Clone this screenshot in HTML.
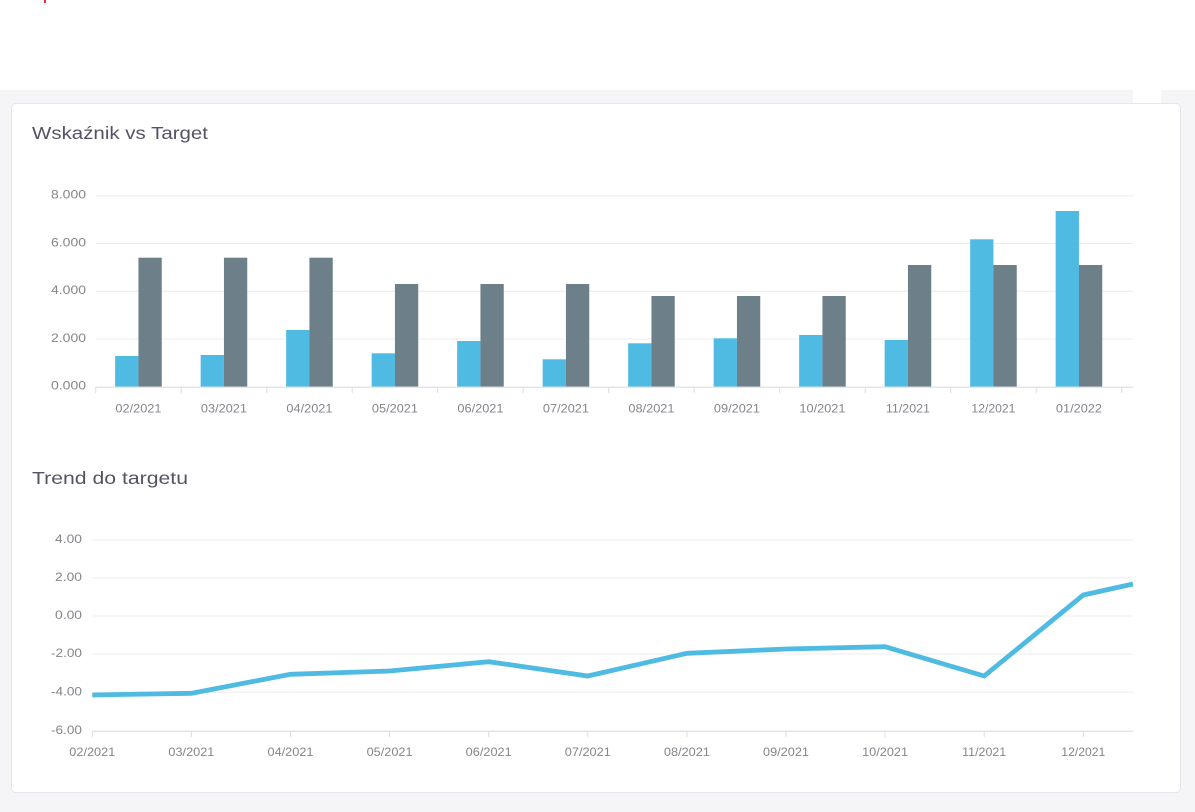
<!DOCTYPE html>
<html>
<head>
<meta charset="utf-8">
<style>
  html,body{margin:0;padding:0;background:#fff;}
  body{width:1195px;height:812px;overflow:hidden;}
  svg{display:block;}
  text{font-family:"Liberation Sans",sans-serif;}
</style>
</head>
<body>
<svg width="1195" height="812" viewBox="0 0 1195 812" xmlns="http://www.w3.org/2000/svg">
  <!-- page backgrounds -->
  <rect x="0" y="0" width="1195" height="90" fill="#ffffff"/>
  <rect x="0" y="90" width="1195" height="722" fill="#f5f5f7"/>
  <rect x="1133" y="90" width="28" height="13" fill="#ffffff"/>
  <rect x="44" y="0" width="2" height="3" fill="#e0303a"/>

  <!-- card -->
  <rect x="11.5" y="103.5" width="1169" height="689" rx="4" ry="4" fill="#ffffff" stroke="#e6e6ea" stroke-width="1"/>

  <!-- ========== Chart 1 ========== -->
  <text x="32" y="139" font-size="17.5" fill="#535365" textLength="176" lengthAdjust="spacingAndGlyphs">Wskaźnik vs Target</text>

  <!-- gridlines -->
  <g stroke="#ececef" stroke-width="1">
    <line x1="96" y1="195.7" x2="1133" y2="195.7"/>
    <line x1="96" y1="243.5" x2="1133" y2="243.5"/>
    <line x1="96" y1="291.3" x2="1133" y2="291.3"/>
    <line x1="96" y1="339" x2="1133" y2="339"/>
  </g>

  <!-- y labels -->
  <g font-size="12" fill="#85858c" text-anchor="end">
    <text x="86" y="198.5" textLength="35" lengthAdjust="spacingAndGlyphs">8.000</text>
    <text x="86" y="246.3" textLength="35" lengthAdjust="spacingAndGlyphs">6.000</text>
    <text x="86" y="294.1" textLength="35" lengthAdjust="spacingAndGlyphs">4.000</text>
    <text x="86" y="341.8" textLength="35" lengthAdjust="spacingAndGlyphs">2.000</text>
    <text x="86" y="389.5" textLength="35" lengthAdjust="spacingAndGlyphs">0.000</text>
  </g>

  <!-- bars blue -->
  <g fill="#4fbbe2">
    <rect x="115.15" y="356" width="23.3" height="30.7"/>
    <rect x="200.65" y="355" width="23.3" height="31.7"/>
    <rect x="286.15" y="330" width="23.3" height="56.7"/>
    <rect x="371.65" y="353.3" width="23.3" height="33.4"/>
    <rect x="457.15" y="341" width="23.3" height="45.7"/>
    <rect x="542.65" y="359.3" width="23.3" height="27.4"/>
    <rect x="628.15" y="343.3" width="23.3" height="43.4"/>
    <rect x="713.65" y="338.3" width="23.3" height="48.4"/>
    <rect x="799.15" y="335" width="23.3" height="51.7"/>
    <rect x="884.65" y="340" width="23.3" height="46.7"/>
    <rect x="970.15" y="239.3" width="23.3" height="147.4"/>
    <rect x="1055.65" y="211" width="23.3" height="175.7"/>
  </g>
  <!-- bars grey -->
  <g fill="#6d808a">
    <rect x="138.45" y="257.7" width="23.3" height="129"/>
    <rect x="223.95" y="257.7" width="23.3" height="129"/>
    <rect x="309.45" y="257.7" width="23.3" height="129"/>
    <rect x="394.95" y="284" width="23.3" height="102.7"/>
    <rect x="480.45" y="284" width="23.3" height="102.7"/>
    <rect x="565.95" y="284" width="23.3" height="102.7"/>
    <rect x="651.45" y="296" width="23.3" height="90.7"/>
    <rect x="736.95" y="296" width="23.3" height="90.7"/>
    <rect x="822.45" y="296" width="23.3" height="90.7"/>
    <rect x="907.95" y="265" width="23.3" height="121.7"/>
    <rect x="993.45" y="265" width="23.3" height="121.7"/>
    <rect x="1078.95" y="265" width="23.3" height="121.7"/>
  </g>

  <!-- x axis -->
  <line x1="96" y1="387.2" x2="1133" y2="387.2" stroke="#dedee2" stroke-width="1.2"/>
  <g stroke="#dedee2" stroke-width="1">
    <line x1="95.7" y1="387" x2="95.7" y2="393"/>
    <line x1="181.2" y1="387" x2="181.2" y2="393"/>
    <line x1="266.7" y1="387" x2="266.7" y2="393"/>
    <line x1="352.2" y1="387" x2="352.2" y2="393"/>
    <line x1="437.7" y1="387" x2="437.7" y2="393"/>
    <line x1="523.2" y1="387" x2="523.2" y2="393"/>
    <line x1="608.7" y1="387" x2="608.7" y2="393"/>
    <line x1="694.2" y1="387" x2="694.2" y2="393"/>
    <line x1="779.7" y1="387" x2="779.7" y2="393"/>
    <line x1="865.2" y1="387" x2="865.2" y2="393"/>
    <line x1="950.7" y1="387" x2="950.7" y2="393"/>
    <line x1="1036.2" y1="387" x2="1036.2" y2="393"/>
    <line x1="1121.7" y1="387" x2="1121.7" y2="393"/>
  </g>
  <g font-size="12" fill="#85858c" text-anchor="middle">
    <text x="138.45" y="412.5" textLength="46" lengthAdjust="spacingAndGlyphs">02/2021</text>
    <text x="223.95" y="412.5" textLength="46" lengthAdjust="spacingAndGlyphs">03/2021</text>
    <text x="309.45" y="412.5" textLength="46" lengthAdjust="spacingAndGlyphs">04/2021</text>
    <text x="394.95" y="412.5" textLength="46" lengthAdjust="spacingAndGlyphs">05/2021</text>
    <text x="480.45" y="412.5" textLength="46" lengthAdjust="spacingAndGlyphs">06/2021</text>
    <text x="565.95" y="412.5" textLength="46" lengthAdjust="spacingAndGlyphs">07/2021</text>
    <text x="651.45" y="412.5" textLength="46" lengthAdjust="spacingAndGlyphs">08/2021</text>
    <text x="736.95" y="412.5" textLength="46" lengthAdjust="spacingAndGlyphs">09/2021</text>
    <text x="822.45" y="412.5" textLength="46" lengthAdjust="spacingAndGlyphs">10/2021</text>
    <text x="907.95" y="412.5" textLength="44" lengthAdjust="spacingAndGlyphs">11/2021</text>
    <text x="993.45" y="412.5" textLength="44" lengthAdjust="spacingAndGlyphs">12/2021</text>
    <text x="1078.95" y="412.5" textLength="46" lengthAdjust="spacingAndGlyphs">01/2022</text>
  </g>

  <!-- ========== Chart 2 ========== -->
  <text x="32" y="484" font-size="17.5" fill="#535365" textLength="156" lengthAdjust="spacingAndGlyphs">Trend do targetu</text>

  <g stroke="#ececef" stroke-width="1">
    <line x1="92" y1="540" x2="1133" y2="540"/>
    <line x1="92" y1="577.9" x2="1133" y2="577.9"/>
    <line x1="92" y1="616" x2="1133" y2="616"/>
    <line x1="92" y1="654" x2="1133" y2="654"/>
    <line x1="92" y1="692.3" x2="1133" y2="692.3"/>
  </g>
  <line x1="92" y1="731.2" x2="1133" y2="731.2" stroke="#dedee2" stroke-width="1.2"/>

  <g font-size="12" fill="#85858c" text-anchor="end">
    <text x="82" y="543" textLength="27" lengthAdjust="spacingAndGlyphs">4.00</text>
    <text x="82" y="581" textLength="27" lengthAdjust="spacingAndGlyphs">2.00</text>
    <text x="82" y="619" textLength="27" lengthAdjust="spacingAndGlyphs">0.00</text>
    <text x="82" y="657" textLength="31" lengthAdjust="spacingAndGlyphs">-2.00</text>
    <text x="82" y="695.3" textLength="31" lengthAdjust="spacingAndGlyphs">-4.00</text>
    <text x="82" y="734" textLength="31" lengthAdjust="spacingAndGlyphs">-6.00</text>
  </g>

  <g stroke="#dedee2" stroke-width="1">
    <line x1="92.3" y1="731" x2="92.3" y2="737"/>
    <line x1="191.4" y1="731" x2="191.4" y2="737"/>
    <line x1="290.5" y1="731" x2="290.5" y2="737"/>
    <line x1="389.6" y1="731" x2="389.6" y2="737"/>
    <line x1="488.7" y1="731" x2="488.7" y2="737"/>
    <line x1="587.8" y1="731" x2="587.8" y2="737"/>
    <line x1="686.9" y1="731" x2="686.9" y2="737"/>
    <line x1="786" y1="731" x2="786" y2="737"/>
    <line x1="885.1" y1="731" x2="885.1" y2="737"/>
    <line x1="984.2" y1="731" x2="984.2" y2="737"/>
    <line x1="1083.3" y1="731" x2="1083.3" y2="737"/>
  </g>

  <g font-size="12" fill="#85858c" text-anchor="middle">
    <text x="92.3" y="756" textLength="46" lengthAdjust="spacingAndGlyphs">02/2021</text>
    <text x="191.4" y="756" textLength="46" lengthAdjust="spacingAndGlyphs">03/2021</text>
    <text x="290.5" y="756" textLength="46" lengthAdjust="spacingAndGlyphs">04/2021</text>
    <text x="389.6" y="756" textLength="46" lengthAdjust="spacingAndGlyphs">05/2021</text>
    <text x="488.7" y="756" textLength="46" lengthAdjust="spacingAndGlyphs">06/2021</text>
    <text x="587.8" y="756" textLength="46" lengthAdjust="spacingAndGlyphs">07/2021</text>
    <text x="686.9" y="756" textLength="46" lengthAdjust="spacingAndGlyphs">08/2021</text>
    <text x="786" y="756" textLength="46" lengthAdjust="spacingAndGlyphs">09/2021</text>
    <text x="885.1" y="756" textLength="46" lengthAdjust="spacingAndGlyphs">10/2021</text>
    <text x="984.2" y="756" textLength="44" lengthAdjust="spacingAndGlyphs">11/2021</text>
    <text x="1083.3" y="756" textLength="44" lengthAdjust="spacingAndGlyphs">12/2021</text>
  </g>

  <polyline fill="none" stroke="#4fbbe2" stroke-width="4.8" stroke-linejoin="miter" stroke-linecap="butt"
    points="92.3,695 191.4,693.3 290.5,674.3 389.6,671 488.7,661.7 587.8,676 686.9,653.3 786,649 885.1,646.7 984.2,676 1083.3,595 1133,584"/>
</svg>
</body>
</html>
